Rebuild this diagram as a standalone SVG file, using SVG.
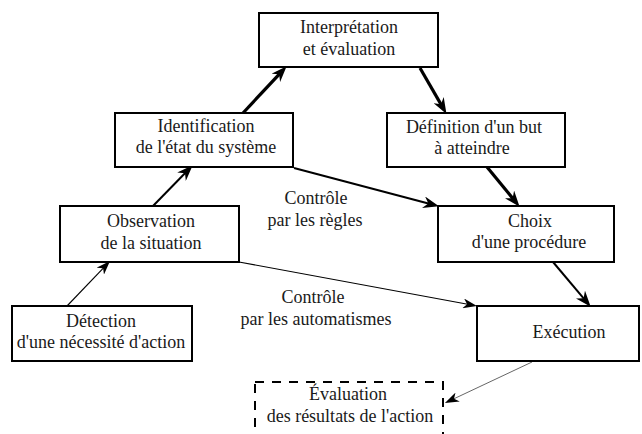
<svg xmlns="http://www.w3.org/2000/svg" width="642" height="434" viewBox="0 0 642 434" font-family="Liberation Serif, DejaVu Serif, Noto Serif, serif" font-size="18">
<style>
.box{fill:#fff;stroke:#000;stroke-width:2}
.dash{fill:none;stroke:#000;stroke-width:2;stroke-dasharray:9 8}
text{fill:#1a1a1a;text-anchor:middle}
.c{stroke:#000;fill:none}
.thick{stroke-width:3.2;marker-end:url(#ah)}
.med{stroke-width:2;marker-end:url(#ah)}
.thin{stroke-width:1.1;marker-end:url(#ahs)}
.gray{stroke:#555;stroke-width:0.9;marker-end:url(#ahs)}
</style>
<defs>
<marker id="ah" viewBox="0 0 16 12" refX="7" refY="6" markerWidth="16" markerHeight="12" markerUnits="userSpaceOnUse" orient="auto">
<path d="M0,0 L16,6 L0,12 L5,6 z" fill="#000"/>
</marker>
<marker id="ahs" viewBox="0 0 14 10" refX="6" refY="5" markerWidth="14" markerHeight="10" markerUnits="userSpaceOnUse" orient="auto">
<path d="M0,0 L14,5 L0,10 L4,5 z" fill="#000"/>
</marker>
</defs>
<g id="connectors">
<line class="c thin" x1="67" y1="306" x2="104.5" y2="266.8"/>
<line class="c med" x1="153" y1="206" x2="186.4" y2="171.7"/>
<line class="c thick" x1="243" y1="113" x2="280.5" y2="72.8"/>
<line class="c thick" x1="420" y1="68" x2="442" y2="106.1"/>
<line class="c thick" x1="487" y1="167" x2="513.9" y2="199.8"/>
<line class="c med" x1="294" y1="168" x2="430.3" y2="204"/>
<line class="c med" x1="553" y1="262" x2="584.9" y2="299.9"/>
<line class="c thin" x1="239" y1="262" x2="469.1" y2="304.5"/>
<line class="c gray" x1="532" y1="362" x2="452.2" y2="399.6"/>
</g>
<g id="interpretation">
<rect class="box" x="259" y="13" width="179" height="54"/>
<text x="349" y="33">Interprétation</text>
<text x="349" y="55">et évaluation</text>
</g>
<g id="identification">
<rect class="box" x="115" y="113" width="178" height="54"/>
<text x="206" y="132">Identification</text>
<text x="206" y="153">de l'état du système</text>
</g>
<g id="definition">
<rect class="box" x="387" y="113" width="178" height="54"/>
<text x="474" y="133">Définition d'un but</text>
<text x="472" y="154">à atteindre</text>
</g>
<g id="choix">
<rect class="box" x="438" y="206" width="176" height="56"/>
<text x="530" y="227">Choix</text>
<text x="529" y="248">d'une procédure</text>
</g>
<g id="observation">
<rect class="box" x="60" y="206" width="179" height="56"/>
<text x="151" y="227">Observation</text>
<text x="151" y="249">de la situation</text>
</g>
<g id="detection">
<rect class="box" x="12" y="306" width="180" height="55"/>
<text x="101" y="327">Détection</text>
<text x="101" y="348">d'une nécessité d'action</text>
</g>
<g id="execution">
<rect class="box" x="477" y="306" width="162" height="55"/>
<text x="569" y="338">Exécution</text>
</g>
<g id="evaluation">
<rect class="dash" x="255" y="382" width="188" height="64"/>
<text x="348" y="400">Évaluation</text>
<text x="350" y="422">des résultats de l'action</text>
</g>
<g id="labels">
<text x="316" y="204">Contrôle</text>
<text x="315" y="226">par les règles</text>
<text x="313" y="303">Contrôle</text>
<text x="316" y="325">par les automatismes</text>
</g>
</svg>
